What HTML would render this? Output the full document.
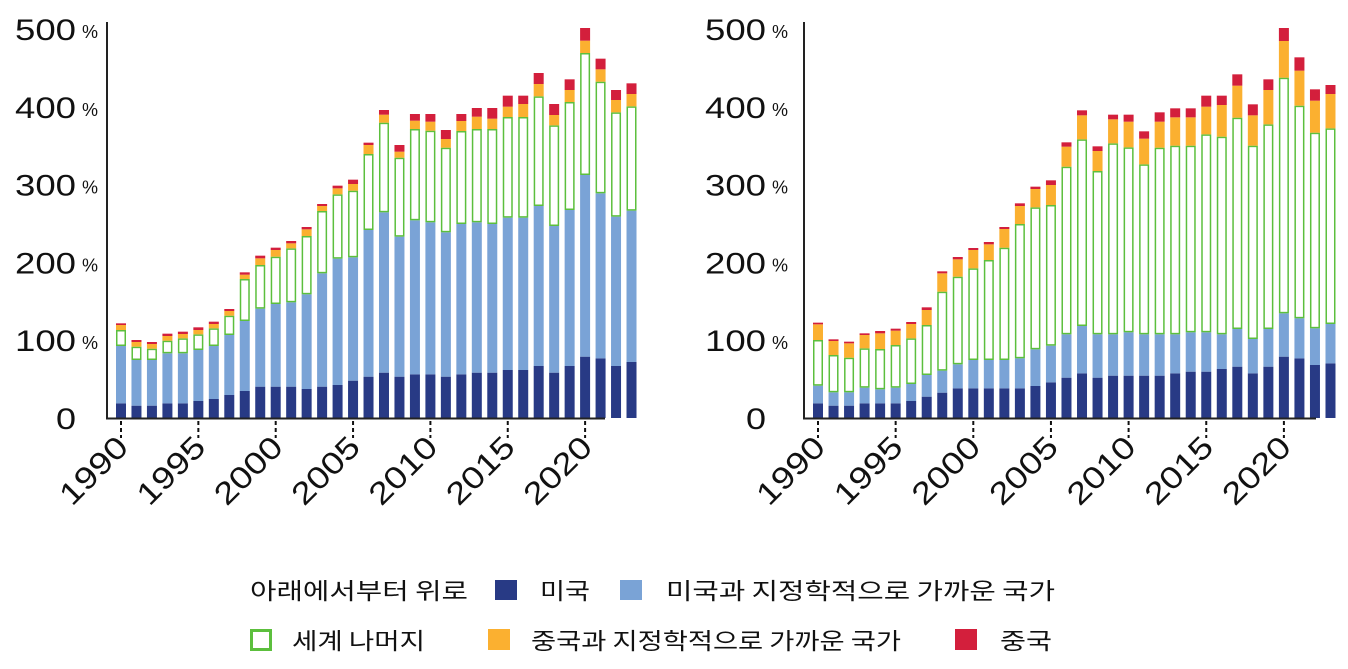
<!DOCTYPE html>
<html><head><meta charset="utf-8">
<style>
html,body{margin:0;padding:0;background:#fff;}
body{width:1348px;height:669px;overflow:hidden;}
svg{display:block}
text{font-family:"Liberation Sans","Noto Sans CJK KR",sans-serif;fill:#111;}
.k{font-family:"Noto Sans CJK KR",sans-serif;}
</style></head>
<body>
<svg id="s" width="1348" height="669" viewBox="0 0 1348 669" xmlns="http://www.w3.org/2000/svg">
<g id="g"></g>
<g font-size="23">
<text class="k" x="250" y="599" textLength="218" lengthAdjust="spacingAndGlyphs">아래에서부터 위로</text>
<rect x="495" y="580" width="22" height="20" fill="#283a85"/>
<text class="k" x="540" y="599" textLength="50" lengthAdjust="spacingAndGlyphs">미국</text>
<rect x="620" y="580" width="22" height="20" fill="#7aa3d6"/>
<text class="k" x="666" y="599" textLength="389" lengthAdjust="spacingAndGlyphs">미국과 지정학적으로 가까운 국가</text>
<rect x="251.5" y="630.5" width="19" height="19" fill="#fff" stroke="#5cbf3d" stroke-width="3"/>
<text class="k" x="292" y="649" textLength="133" lengthAdjust="spacingAndGlyphs">세계 나머지</text>
<rect x="488" y="629" width="22" height="21" fill="#fbb030"/>
<text class="k" x="531" y="649" textLength="370" lengthAdjust="spacingAndGlyphs">중국과 지정학적으로 가까운 국가</text>
<rect x="955" y="629" width="22" height="21" fill="#d31f3c"/>
<text class="k" x="1000" y="649" textLength="52" lengthAdjust="spacingAndGlyphs">중국</text>
</g>
</svg>
<script>
var L=[[1150,978,930,915,910],[1157,1020,980,966,960],[1157,1020,986,972,966],[1150,1000,962,948,941],[1150,1000,955,942,935],[1143,990,943,930,922],[1137,978,925,912,905],[1125,945,887,873,867],[1113,903,777,764,757],[1100,866,735,715,707],[1100,852,710,690,683],[1100,847,685,670,663],[1107,823,648,628,621],[1100,760,573,558,552],[1095,716,523,505,497],[1082,712,512,492,479],[1070,630,402,375,368],[1058,577,308,284,270],[1070,650,413,395,375],[1063,601,327,302,282],[1063,607,332,305,282],[1070,637,383,357,330],[1063,612,333,303,282],[1058,607,327,290,264],[1058,612,327,296,264],[1050,593,291,260,227],[1050,593,291,252,227],[1038,558,229,192,159],[1058,618,316,285,252],[1038,570,246,210,178],[1010,465,99,62,24],[1015,520,185,148,116],[1038,590,277,240,210],[1026,572,259,222,190]];
var R=[[1150,1097,960,913,908],[1157,1117,1005,963,958],[1157,1117,1013,970,965],[1150,1103,985,945,940],[1150,1108,987,940,933],[1150,1103,975,932,926],[1143,1092,955,912,906],[1130,1065,915,870,862],[1118,1052,815,760,754],[1105,1033,770,718,711],[1105,1020,745,690,684],[1105,1020,720,673,666],[1105,1020,683,627,621],[1105,1015,612,558,550],[1098,988,562,507,500],[1087,977,555,495,481],[1073,943,440,380,367],[1060,918,358,286,271],[1073,943,453,393,379],[1067,943,370,298,284],[1067,937,382,305,284],[1067,943,433,356,334],[1067,943,383,305,277],[1060,943,377,292,265],[1055,937,377,292,265],[1055,937,343,260,227],[1047,943,350,255,227],[1040,927,293,197,163],[1060,957,377,286,253],[1040,927,313,210,178],[1010,880,173,63,24],[1015,895,257,152,112],[1035,925,338,242,208],[1030,912,325,222,195]];
var h='';
function chart(D,x0,dx,ax,axEnd,numEnd){
 var base=418;
 function Y(z){return 20+z/3;}
 for(var i=0;i<D.length;i++){
  var d=D[i],cx=x0+i*dx,w=10,x=cx-w/2;
  var t=[base].concat(d.map(Y));
  h+='<rect x="'+x+'" y="'+t[1]+'" width="'+w+'" height="'+(t[0]-t[1])+'" fill="#283a85"/>';
  h+='<rect x="'+x+'" y="'+t[2]+'" width="'+w+'" height="'+(t[1]-t[2])+'" fill="#7aa3d6"/>';
  h+='<rect x="'+(x+0.75)+'" y="'+(t[3]+0.75)+'" width="'+(w-1.5)+'" height="'+Math.max(0,t[2]-t[3]-1.5)+'" fill="#fff" stroke="#5cbf3d" stroke-width="1.5"/>';
  h+='<rect x="'+x+'" y="'+t[4]+'" width="'+w+'" height="'+(t[3]-t[4])+'" fill="#fbb030"/>';
  h+='<rect x="'+x+'" y="'+t[5]+'" width="'+w+'" height="'+(t[4]-t[5])+'" fill="#d31f3c"/>';
 }
 h+='<line x1="'+ax+'" y1="22" x2="'+ax+'" y2="419" stroke="#222" stroke-width="2"/>';
 h+='<line x1="'+(ax-1)+'" y1="418.5" x2="'+axEnd+'" y2="418.5" stroke="#222" stroke-width="2"/>';
 for(var k=0;k<=6;k++){
  var tx=x0+k*5*dx;
  h+='<line x1="'+tx+'" y1="421" x2="'+tx+'" y2="438" stroke="#111" stroke-width="2" stroke-dasharray="4,3"/>';
  h+='<text font-size="31" text-anchor="end" textLength="82" lengthAdjust="spacingAndGlyphs" transform="translate('+(tx+9)+',449) rotate(-45)">'+(1990+k*5)+'</text>';
 }
 for(var v=0;v<=5;v++){
  var yy=418-v*77.8+11;
  if(v==0){h+='<text font-size="30" x="'+(numEnd-20)+'" y="'+yy+'" textLength="20" lengthAdjust="spacingAndGlyphs">0</text>';}
  else{h+='<text font-size="30" x="'+(numEnd-61)+'" y="'+yy+'" textLength="61" lengthAdjust="spacingAndGlyphs">'+(v*100)+'</text><text font-size="18" x="'+(numEnd+6)+'" y="'+(yy-2)+'">%</text>';}
 }
}
chart(L,121,15.47,107,605,76);
chart(R,818,15.53,804,1316,766);
document.getElementById('g').innerHTML=h;
</script>
</body></html>
